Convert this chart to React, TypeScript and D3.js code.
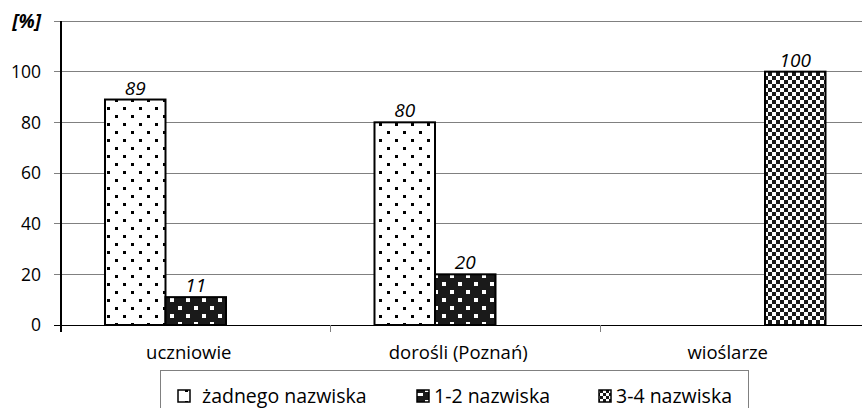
import React from "react";
import * as d3 from "d3";

const categories = ["uczniowie", "dorośli (Poznań)", "wioślarze"];
const seriesNames = ["żadnego nazwiska", "1-2 nazwiska", "3-4 nazwiska"];
const seriesValues: (number | null)[][] = [
  [89, 80, null],
  [11, 20, null],
  [null, null, 100],
];
const yTicks = [0, 20, 40, 60, 80, 100, 120];
const yLabels = ["0", "20", "40", "60", "80", "100", ""];

const W = 862;
const H = 408;
const margin = { left: 61, top: 21, bottom: 83 };
const plotRight = 869.5;
const FONT = "'Open Sans', 'Noto Sans', sans-serif";
const patternIds = ["pDots", "pInvDots", "pChecker"];

export default function App() {
  const x = d3.scaleBand<string>().domain(categories).range([margin.left, plotRight]).paddingInner(0).paddingOuter(0);
  const y = d3.scaleLinear().domain([0, 120]).range([H - margin.bottom, margin.top]);
  const bw = x.bandwidth();
  const groupW = bw * 0.6735;
  const x1 = d3.scaleBand<number>().domain([0, 1, 2]).range([0, groupW]);
  const offset = (bw - groupW) / 2;

  const legendX = 160;
  const legendY = 370;
  const legendItems = [
    { x: 178, tx: 202 },
    { x: 417, tx: 434 },
    { x: 599, tx: 616 },
  ];

  return (
    <svg width={W} height={H} style={{ position: "absolute", left: 0, top: 0, background: "#fff" }} fontFamily={FONT}>
      <defs>
        <pattern id="pDots" width={16} height={16} patternUnits="userSpaceOnUse">
          <rect width={16} height={16} fill="#fff" />
          <rect x={3} y={3} width={3} height={3} fill="#000" />
          <rect x={11} y={11} width={3} height={3} fill="#000" />
        </pattern>
        <pattern id="pInvDots" width={16} height={16} patternUnits="userSpaceOnUse">
          <rect width={16} height={16} fill="#1a1a1a" />
          <rect x={2} y={2} width={4} height={4} fill="#fff" />
          <rect x={10} y={10} width={4} height={4} fill="#fff" />
        </pattern>
        <pattern id="pChecker" width={8} height={8} patternUnits="userSpaceOnUse">
          <rect width={8} height={8} fill="#fff" />
          <rect x={0} y={0} width={4} height={4} fill="#1a1a1a" />
          <rect x={4} y={4} width={4} height={4} fill="#1a1a1a" />
        </pattern>
        <pattern id="lDots" width={12} height={12} patternUnits="userSpaceOnUse">
          <rect width={12} height={12} fill="#fff" />
          <rect x={5} y={5} width={3} height={3} fill="#000" />
        </pattern>
        <pattern id="lInv" width={12} height={12} patternUnits="userSpaceOnUse">
          <rect width={12} height={12} fill="#1a1a1a" />
          <rect x={5} y={4} width={4} height={4} fill="#fff" />
          <rect x={0} y={9} width={3} height={3} fill="#fff" />
          <rect x={9} y={9} width={3} height={3} fill="#fff" />
        </pattern>
        <pattern id="lCheck" width={6} height={6} patternUnits="userSpaceOnUse">
          <rect width={6} height={6} fill="#fff" />
          <rect x={0} y={0} width={3} height={3} fill="#1a1a1a" />
          <rect x={3} y={3} width={3} height={3} fill="#1a1a1a" />
        </pattern>
      </defs>

      {yTicks.map((t) => (
        <line key={"g" + t} x1={margin.left - 7} x2={W} y1={y(t)} y2={y(t)} stroke={t === 0 ? "#000" : "#808080"} strokeWidth={1} shapeRendering="crispEdges" />
      ))}
      {yTicks.map((t, i) => (
        <text key={"yl" + t} x={41} y={y(t)} dy="0.36em" textAnchor="end" fontSize={17.5} fill="#000">
          {yLabels[i]}
        </text>
      ))}
      <text x={41} y={y(120)} dy="0.36em" textAnchor="end" fontSize={19} fontWeight="bold" fontStyle="italic">
        [%]
      </text>

      {categories.map((c) => (
        <line key={"xt" + c} x1={(x(c) as number) + bw} x2={(x(c) as number) + bw} y1={y(0)} y2={y(0) + 7} stroke="#808080" shapeRendering="crispEdges" />
      ))}

      {seriesValues.map((vals, si) =>
        vals.map((v, ci) =>
          v === null ? null : (
            <g key={`b${si}-${ci}`}>
              <rect
                x={(x(categories[ci]) as number) + offset + (x1(si) as number)}
                y={y(v)}
                width={x1.bandwidth()}
                height={y(0) - y(v)}
                fill={`url(#${patternIds[si]})`}
                stroke="#000"
                strokeWidth={2}
              />
              <text
                x={(x(categories[ci]) as number) + offset + (x1(si) as number) + x1.bandwidth() / 2}
                y={y(v) - 5}
                textAnchor="middle"
                fontSize={19}
                fontStyle="italic"
              >
                {v}
              </text>
            </g>
          )
        )
      )}

      <line x1={margin.left} x2={margin.left} y1={y(120)} y2={y(0) + 7} stroke="#000" strokeWidth={1.2} shapeRendering="crispEdges" />

      {categories.map((c) => (
        <text key={"xl" + c} x={(x(c) as number) + bw / 2 - 7} y={359} textAnchor="middle" fontSize={18.5}>
          {c}
        </text>
      ))}

      <rect x={legendX} y={legendY} width={588} height={50} fill="#fff" stroke="#808080" strokeWidth={1} shapeRendering="crispEdges" />
      {seriesNames.map((n, i) => (
        <g key={"lg" + i}>
          <rect x={legendItems[i].x} y={390} width={12} height={12} fill={`url(#${["lDots", "lInv", "lCheck"][i]})`} stroke="#000" strokeWidth={1.5} />
          <text x={legendItems[i].tx} y={396} dy="0.36em" fontSize={19.5}>
            {n}
          </text>
        </g>
      ))}
    </svg>
  );
}
